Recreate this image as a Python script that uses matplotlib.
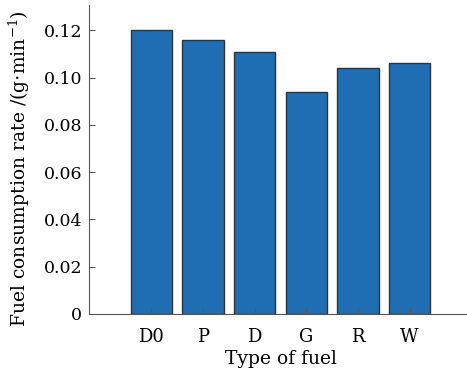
import numpy as np
import matplotlib.pyplot as plt

fuels = ['D0', 'P', 'D', 'G', 'R', 'W']
rate = [0.120, 0.116, 0.111, 0.094, 0.104, 0.106]

plt.rcParams['font.family'] = ['DejaVu Serif']
plt.rcParams['mathtext.fontset'] = 'dejavuserif'

fig = plt.figure(figsize=(4.67, 3.71), dpi=100)
ax = fig.add_axes([89/467, 1 - 314/371, (472 - 89)/467, (314 - 5)/371])

x = np.arange(1, len(fuels) + 1)
ax.bar(x, rate, width=0.8, color='#1f6eb3', edgecolor='#333333', linewidth=1)

ax.set_xlim(-0.21, 7.21)
ax.set_ylim(0, 0.1307)
ax.set_xticks(x)
ax.set_xticklabels(fuels)
ax.set_yticks([0, 0.02, 0.04, 0.06, 0.08, 0.10, 0.12])
ax.set_yticklabels(['0', '0.02', '0.04', '0.06', '0.08', '0.10', '0.12'])
ax.tick_params(direction='in', labelsize=12.5, color='#555555', length=4)
ax.tick_params(axis='x', labelsize=13, pad=10)
ax.tick_params(axis='y', pad=5)
ax.set_xlabel('Type of fuel', fontsize=13.5, labelpad=3)
ax.set_ylabel(r'Fuel consumption rate /(g$\cdot$min$^{-1}$)', fontsize=13.5)
ax.yaxis.set_label_coords(-0.15, 0.47)

ax.spines['top'].set_visible(False)
ax.spines['right'].set_visible(False)
ax.spines['left'].set_color('#555555')
ax.spines['bottom'].set_color('#555555')

fig.savefig('out.png', dpi=100)
